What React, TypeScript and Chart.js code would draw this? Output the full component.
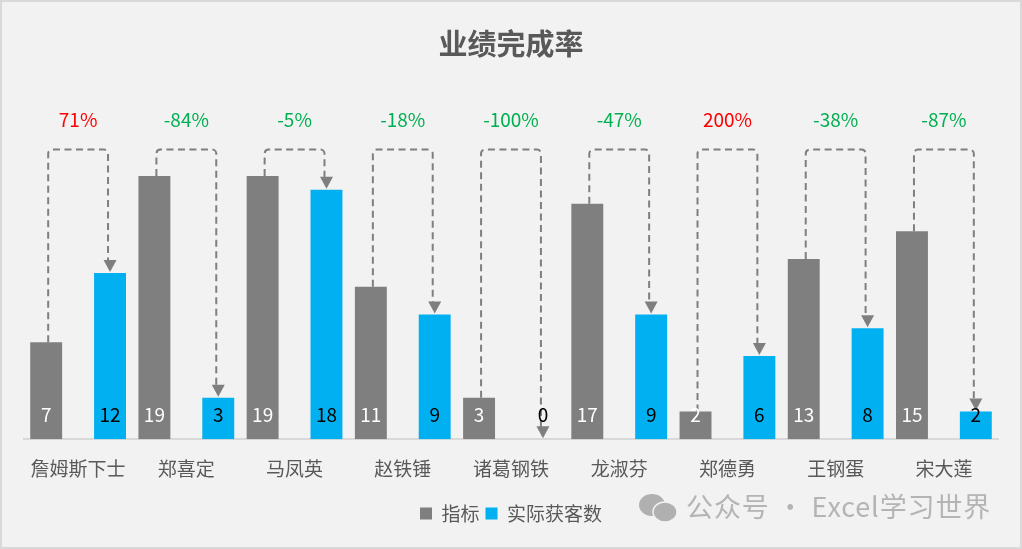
import React, { useEffect, useRef } from "react";
import { Chart, registerables } from "chart.js";

Chart.register(...registerables);

const FONT = '"Noto Sans CJK SC", "Noto Sans", sans-serif';
const categories = ["詹姆斯下士", "郑喜定", "马凤英", "赵铁锤", "诸葛钢铁", "龙淑芬", "郑德勇", "王钢蛋", "宋大莲"];
const targets = [7, 19, 19, 11, 3, 17, 2, 13, 15];
const actuals = [12, 3, 18, 9, 0, 9, 6, 8, 2];
const rates = ["71%", "-84%", "-5%", "-18%", "-100%", "-47%", "200%", "-38%", "-87%"];
const connectorLevel = 20.9;
const rateLevel = 23.05;
const labelLevel = 1.75;

const overlay = {
  id: "overlay",
  afterDatasetsDraw(chart: any) {
    const { ctx, scales } = chart;
    const a = chart.getDatasetMeta(0).data;
    const b = chart.getDatasetMeta(1).data;
    const top = scales.y.getPixelForValue(connectorLevel);
    ctx.save();
    categories.forEach((_, i) => {
      const x1 = a[i].x + 2;
      const x2 = b[i].x - 2;
      const ay = scales.y.getPixelForValue(actuals[i]);
      const gy = scales.y.getPixelForValue(targets[i]);
      ctx.beginPath();
      ctx.setLineDash([7, 4.5]);
      ctx.lineWidth = 2;
      ctx.strokeStyle = "#7f7f7f";
      ctx.moveTo(x1, gy);
      ctx.arcTo(x1, top, x2, top, 4);
      ctx.arcTo(x2, top, x2, ay - 12, 4);
      ctx.lineTo(x2, ay - 12);
      ctx.stroke();
      ctx.setLineDash([]);
      ctx.beginPath();
      ctx.fillStyle = "#7f7f7f";
      ctx.moveTo(b[i].x - 6.5, ay - 13);
      ctx.lineTo(b[i].x + 6.5, ay - 13);
      ctx.lineTo(b[i].x, ay - 1);
      ctx.closePath();
      ctx.fill();

      ctx.textAlign = "center";
      ctx.textBaseline = "middle";
      ctx.font = `19px ${FONT}`;
      const ly = scales.y.getPixelForValue(labelLevel);
      ctx.fillStyle = "#ffffff";
      ctx.fillText(String(targets[i]), a[i].x, ly);
      ctx.fillStyle = "#000000";
      ctx.fillText(String(actuals[i]), b[i].x, ly);
      ctx.fillStyle = rates[i].startsWith("-") ? "#00b050" : "#ff0000";
      ctx.fillText(rates[i], (a[i].x + b[i].x) / 2, scales.y.getPixelForValue(rateLevel));
    });

    // watermark
    ctx.fillStyle = "#b0b0b0";
    ctx.beginPath();
    ctx.ellipse(652, 505, 13, 11, 0, 0, Math.PI * 2);
    ctx.fill();
    ctx.beginPath();
    ctx.strokeStyle = "#f2f2f2";
    ctx.lineWidth = 1.5;
    ctx.ellipse(665, 512, 12, 10, 0, 0, Math.PI * 2);
    ctx.fill();
    ctx.stroke();
    ctx.textAlign = "left";
    ctx.font = `27px ${FONT}`;
    ctx.fillStyle = "#b4b4b4";
    (ctx as any).letterSpacing = "0.9px";
    ctx.fillText("公众号 · Excel学习世界", 686, 507);
    ctx.restore();
  },
};

export default function App() {
  const ref = useRef<HTMLCanvasElement>(null);
  useEffect(() => {
    document.body.style.margin = "0";
    const chart = new Chart(ref.current!, {
      type: "bar",
      data: {
        labels: categories,
        datasets: [
          { label: "指标", data: targets, backgroundColor: "#7f7f7f" },
          { label: "实际获客数", data: actuals, backgroundColor: "#00b0f0" },
        ],
      },
      options: {
        animation: false,
        responsive: false,
        layout: { padding: { left: 24, right: 24, top: 6, bottom: 16 } },
        datasets: { bar: { categoryPercentage: 1.18, barPercentage: 0.5 } },
        scales: {
          x: {
            grid: { display: false, drawTicks: false },
            border: { color: "#d9d9d9", width: 2 },
            ticks: { color: "#595959", font: { size: 19, family: FONT }, padding: 18, maxRotation: 0, autoSkip: false },
          },
          y: { display: false, min: 0, max: 25 },
        },
        plugins: {
          title: {
            display: true,
            text: "业绩完成率",
            color: "#595959",
            font: { size: 29, weight: "bold", family: FONT },
            padding: { top: 21, bottom: 31 },
          },
          legend: {
            position: "bottom",
            labels: { color: "#595959", boxWidth: 12, boxHeight: 12, padding: 6, font: { size: 19, family: FONT } },
          },
          tooltip: { enabled: false },
        },
      } as any,
      plugins: [overlay],
    });
    return () => chart.destroy();
  }, []);
  return (
    <div style={{ width: 1022, height: 549, position: "relative", background: "#f2f2f2", overflow: "hidden" }}>
      <canvas ref={ref} width={1022} height={549} style={{ display: "block" }} />
      <div style={{ position: "absolute", inset: 0, border: "2px solid #d9d9d9", pointerEvents: "none" }} />
    </div>
  );
}
